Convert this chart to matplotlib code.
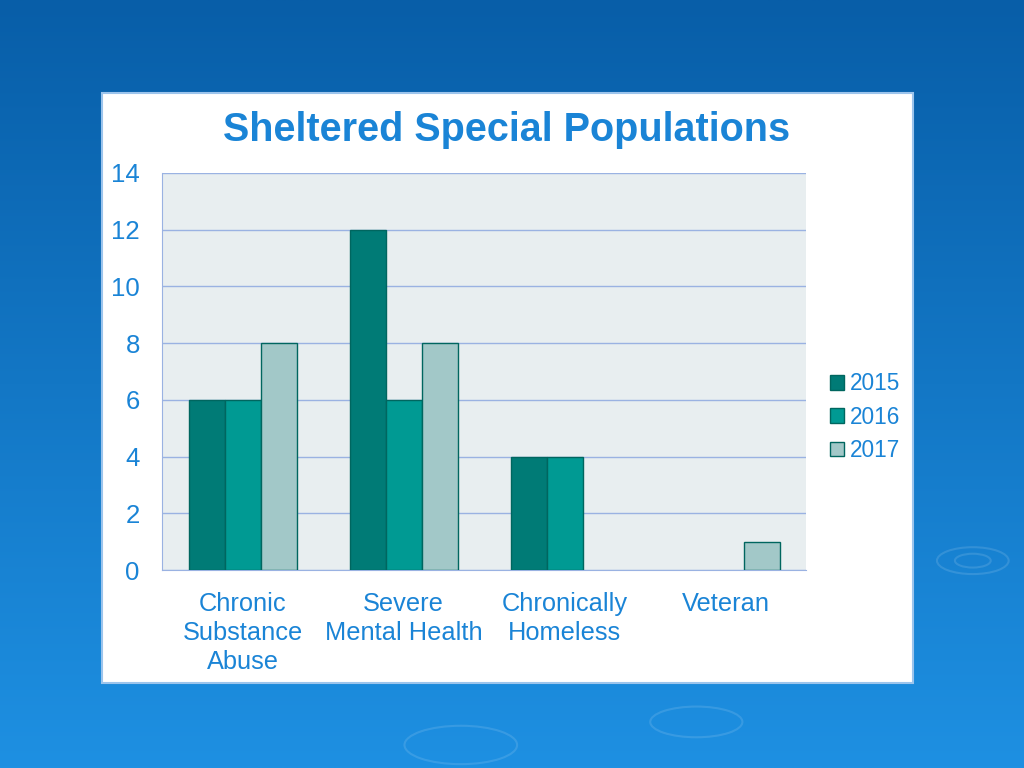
import matplotlib
matplotlib.use("Agg")
import matplotlib.pyplot as plt
import numpy as np
from matplotlib.patches import Rectangle, Ellipse

categories = ["Chronic\nSubstance\nAbuse", "Severe\nMental Health", "Chronically\nHomeless", "Veteran"]
series_names = ["2015", "2016", "2017"]
v2015 = [6, 12, 4, 0]
v2016 = [6, 6, 4, 0]
v2017 = [8, 8, 0, 1]
yticks = [0, 2, 4, 6, 8, 10, 12, 14]

colors = ["#007B76", "#009A93", "#A2C8C8"]
edge = "#00665F"
txt = "#1A84D6"

plt.rcParams['font.family'] = ['Liberation Sans', 'DejaVu Sans']

fig = plt.figure(figsize=(10.24, 7.68), dpi=100)

# background gradient
bg = fig.add_axes([0, 0, 1, 1], zorder=0)
grad = np.linspace(0, 1, 256).reshape(-1, 1)
top = np.array([0x08, 0x5E, 0xA8]) / 255
bot = np.array([0x1E, 0x90, 0xE2]) / 255
img = top + (bot - top) * grad[:, :, None] * np.ones((1, 2, 1))
bg.imshow(img, aspect='auto', extent=[0, 1, 0, 1], origin='upper')
for (cx, cy, w, h) in [(0.95, 0.27, 0.07, 0.035), (0.95, 0.27, 0.035, 0.018),
                       (0.45, 0.03, 0.11, 0.05), (0.68, 0.06, 0.09, 0.04)]:
    bg.add_patch(Ellipse((cx, cy), w, h, fill=False, ec=(1, 1, 1, 0.12), lw=1.5))
bg.set_xlim(0, 1); bg.set_ylim(0, 1)
bg.axis('off')

# white panel
fig.patches.append(Rectangle((102/1024, 1-683/768), 811/1024, 590/768,
                             transform=fig.transFigure, fc='white',
                             ec='#9CC4EC', lw=1.5, zorder=1))

ax = fig.add_axes([162/1024, 1-570/768, 644/1024, 397/768], zorder=2)
ax.set_facecolor('#E8EEF0')
x = np.arange(len(categories))
w = 36/161
for i, (vals, name) in enumerate(zip([v2015, v2016, v2017], series_names)):
    vals = np.asarray(vals, dtype=float)
    lw = [1 if v > 0 else 0 for v in vals]
    ax.bar(x + (i-1)*w, vals, w, color=colors[i], edgecolor=edge, linewidth=lw,
           label=name, zorder=3)
ax.set_xlim(-0.5, len(categories)-0.5)
ax.set_ylim(0, 14)
ax.set_yticks(yticks)
ax.set_yticklabels([str(t) for t in yticks], fontsize=18.5, color=txt)
ax.set_xticks(x)
ax.set_xticklabels(categories, fontsize=18.3, color=txt, linespacing=1.25, va='top')
ax.tick_params(length=0)
ax.tick_params(axis='x', pad=16)
ax.tick_params(axis='y', pad=16)
ax.grid(axis='y', color='#9AB2E2', lw=1, zorder=1)
for s in ['top', 'right']:
    ax.spines[s].set_visible(False)
for s in ['left', 'bottom']:
    ax.spines[s].set_color('#9AB2E2')

fig.text(507/1024, 1-130/768, "Sheltered Special Populations", ha='center', va='center',
         fontsize=28.5, fontweight='bold', color=txt)

leg = ax.legend(loc='center left', bbox_to_anchor=(1.006, 0.385), frameon=False,
                fontsize=16.3, handlelength=0.6, handleheight=0.6, handletextpad=0.25,
                labelspacing=0.45, labelcolor=txt)

fig.savefig("out.png", dpi=100)
